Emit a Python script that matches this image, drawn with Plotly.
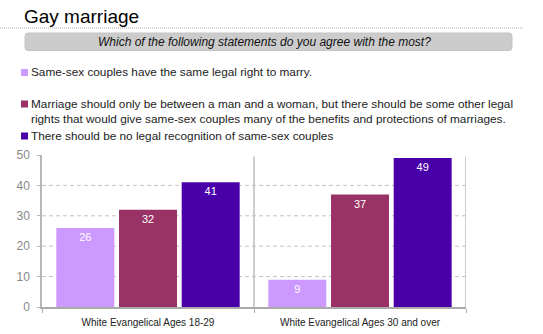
import plotly.graph_objects as go

# Survey data
groups = ["White Evangelical Ages 18-29", "White Evangelical Ages 30 and over"]
series_names = [
    "Same-sex couples have the same legal right to marry.",
    "Marriage should only be between a man and a woman, but there should be some other legal<br>"
    "rights that would give same-sex couples many of the benefits and protections of marriages.",
    "There should be no legal recognition of same-sex couples",
]
same_right = [26, 9]
other_rights = [32, 37]
no_recognition = [41, 49]
series_values = [same_right, other_rights, no_recognition]
colors = ["#cc99ff", "#993366", "#4a00a8"]
y_ticks = [0, 10, 20, 30, 40, 50]

W, H = 543, 334
ML, MR, MT, MB = 42, 77, 155, 27
PW, PH = W - ML - MR, H - MT - MB


def px(x):
    return (x - ML) / PW


def py(y):
    return (H - MB - y) / PH


fig = go.Figure()
for name, vals, col in zip(series_names, series_values, colors):
    fig.add_trace(go.Bar(
        x=groups, y=vals, name=name, marker=dict(color=col, line=dict(width=0)),
        text=[str(v) for v in vals], textposition="inside", insidetextanchor="end",
        textfont=dict(color="white", size=11, family="Arial"),
        showlegend=False, cliponaxis=False,
    ))

shapes = []
annotations = []

# Dashed horizontal gridlines (interior ticks only)
for t in y_ticks[1:-1]:
    shapes.append(dict(type="line", xref="paper", yref="y", x0=0, x1=1, y0=t, y1=t,
                       line=dict(color="#c4c4c4", width=1, dash="4px,3px"), layer="below"))

# Title and question banner
annotations.append(dict(text="Gay marriage", xref="paper", yref="paper", x=px(22), y=py(16),
                        xanchor="left", yanchor="middle", showarrow=False,
                        font=dict(size=19, color="#000000", family="Arial")))
shapes.append(dict(type="line", xref="paper", yref="paper", x0=px(0), x1=px(523),
                   y0=py(28), y1=py(28), line=dict(color="#b0b0b0", width=1, dash="1px,1px")))


def rounded_rect(x0, y0, x1, y1, r):
    X0, X1 = px(x0), px(x1)
    Y0, Y1 = py(y0), py(y1)
    rx, ry = r / PW, r / PH
    return (f"M {X0+rx},{Y0} L {X1-rx},{Y0} Q {X1},{Y0} {X1},{Y0-ry} "
            f"L {X1},{Y1+ry} Q {X1},{Y1} {X1-rx},{Y1} L {X0+rx},{Y1} "
            f"Q {X0},{Y1} {X0},{Y1+ry} L {X0},{Y0-ry} Q {X0},{Y0} {X0+rx},{Y0} Z")


shapes.append(dict(type="path", xref="paper", yref="paper", path=rounded_rect(25, 33, 512, 50.5, 3),
                   fillcolor="#cccccc", line=dict(color="#c4c4c4", width=1), layer="below"))
annotations.append(dict(text="<i>Which of the following statements do you agree with the most?</i>",
                        xref="paper", yref="paper", x=px(264), y=py(41.5), xanchor="center",
                        yanchor="middle", showarrow=False,
                        font=dict(size=12, color="#111111", family="Arial")))

# Legend rows
legend_rows = [72.5, 111, 136]
for name, col, yc in zip(series_names, colors, legend_rows):
    n_lines = name.count("<br>") + 1
    top = yc - 7 * (n_lines - 1)
    shapes.append(dict(type="rect", xref="paper", yref="paper", x0=px(21), x1=px(28),
                       y0=py(top - 3.5), y1=py(top + 3.5), fillcolor=col, line=dict(width=0)))
    annotations.append(dict(text=name, xref="paper", yref="paper", x=px(29), y=py(yc),
                            xanchor="left", yanchor="middle", align="left", showarrow=False,
                            font=dict(size=11.8, color="#222222", family="Arial")))

# Group divider and right border
for xv in [0.5, 1.5]:
    shapes.append(dict(type="line", xref="x", yref="y", x0=xv, x1=xv, y0=0, y1=49.5,
                       line=dict(color="#bdbdbd", width=1.5)))

fig.update_layout(
    width=W, height=H, margin=dict(l=ML, r=MR, t=MT, b=MB, autoexpand=False),
    paper_bgcolor="white", plot_bgcolor="white",
    barmode="group", bargap=0.113, bargroupgap=0.075,
    shapes=shapes, annotations=annotations,
    font=dict(family="Arial"),
    uniformtext=dict(minsize=8),
)
fig.update_xaxes(
    showline=True, linecolor="#aaaaaa", linewidth=1.5, ticks="outside", tickson="boundaries",
    ticklen=4, tickcolor="#aaaaaa", tickfont=dict(size=10, color="#222222"), showgrid=False,
    range=[-0.5, 1.5], ticklabelstandoff=5, automargin=False,
)
fig.update_yaxes(
    range=[0, 50], tickvals=y_ticks, showline=True, linecolor="#b8b8b8", linewidth=1.5,
    ticks="outside", ticklen=3, tickcolor="#b8b8b8", tickfont=dict(size=12, color="#888888"),
    showgrid=False, zeroline=False, ticklabelstandoff=5, automargin=False,
)

fig.write_html("out.html")
